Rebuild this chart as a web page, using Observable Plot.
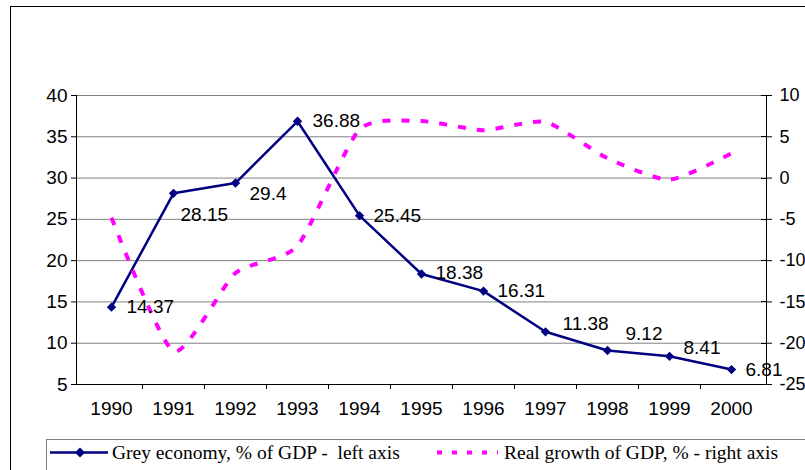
<!DOCTYPE html>
<html>
<head>
<meta charset="utf-8">
<script src="https://cdn.jsdelivr.net/npm/d3@7"></script>
<script src="https://cdn.jsdelivr.net/npm/@observablehq/plot@0.6"></script>
<style>
  html, body { margin: 0; padding: 0; background: #fff; overflow: hidden; }
  #wrap { position: relative; width: 805px; height: 470px; overflow: hidden; }
  #frame { position: absolute; left: 10px; top: 6px; width: 900px; height: 600px;
           border-left: 1px solid #000; border-top: 1px solid #000; box-sizing: border-box; pointer-events: none; }
  #legend { position: absolute; left: 46px; top: 439px; }
</style>
</head>
<body>
<div id="wrap">
  <div id="frame"></div>
  <div id="chart"></div>
  <svg id="legend" width="760" height="31">
    <rect x="0.5" y="0.5" width="800" height="60" fill="#fff" stroke="#808080" stroke-width="1"></rect>
    <line x1="4" x2="62" y1="13.5" y2="13.5" stroke="#000080" stroke-width="2.5"></line>
    <path d="M34,8.5 L39,13.5 L34,18.5 L29,13.5 Z" fill="#000080"></path>
    <text x="66" y="20" xml:space="preserve" font-family="'Liberation Serif','Times New Roman',serif" font-size="19.5" fill="#000">Grey economy, % of GDP -  left axis</text>
    <line x1="391" x2="452" y1="13.5" y2="13.5" stroke="#ff00ff" stroke-width="4" stroke-dasharray="5,10"></line>
    <text x="458" y="20" font-family="'Liberation Serif','Times New Roman',serif" font-size="19.5" fill="#000">Real growth of GDP, % - right axis</text>
  </svg>
</div>
<script>
// ---- data ----
const years = [1990, 1991, 1992, 1993, 1994, 1995, 1996, 1997, 1998, 1999, 2000];
const greyEconomy = [14.37, 28.15, 29.4, 36.88, 25.45, 18.38, 16.31, 11.38, 9.12, 8.41, 6.81];
const gdpGrowth = [-4.8, -21.0, -11.5, -8.2, 5.9, 6.9, 5.8, 6.8, 2.4, -0.2, 3.0];
const leftTicks = [5, 10, 15, 20, 25, 30, 35, 40];
const rightTicks = [-25, -20, -15, -10, -5, 0, 5, 10];
const rightOffset = 30; // right axis value = left axis value - 30

// label nudges (style only)
const labelNudge = [[15,0],[7,22],[14,11],[15,0],[14,0],[14,-1],[14,0],[17,-8],[18,-17],[14,-8],[14,0]];

const idx = years.map((_, i) => i);

function axisLines(index, scales, values, dims) {
  const {width, height, marginLeft, marginRight, marginTop, marginBottom} = dims;
  const x0 = marginLeft, x1 = width - marginRight, yb = height - marginBottom, yt = marginTop;
  const g = d3.create("svg:g").attr("stroke", "#000").attr("stroke-width", 1).attr("fill", "none");
  g.append("line").attr("x1", x0 + 0.5).attr("x2", x0 + 0.5).attr("y1", yt).attr("y2", yb + 0.5);
  g.append("line").attr("x1", x1 + 0.5).attr("x2", x1 + 0.5).attr("y1", yt).attr("y2", yb + 0.5);
  g.append("line").attr("x1", x0).attr("x2", x1 + 0.5).attr("y1", yb + 0.5).attr("y2", yb + 0.5);
  const xs = years.map(y => scales.x(y));
  for (let i = 0; i < xs.length - 1; i++) {
    const bx = Math.round((xs[i] + xs[i + 1]) / 2) + 0.5;
    g.append("line").attr("x1", bx).attr("x2", bx).attr("y1", yb).attr("y2", yb + 5);
  }
  for (const t of rightTicks) {
    const ty = Math.round(scales.y(t + rightOffset)) + 0.5;
    g.append("line").attr("x1", x1 - 5).attr("x2", x1).attr("y1", ty).attr("y2", ty);
  }
  return g.node();
}

const labelMarks = idx.map(i => Plot.text([i], {
  x: d => years[d],
  y: d => greyEconomy[d],
  text: d => String(greyEconomy[d]),
  dx: labelNudge[i][0],
  dy: labelNudge[i][1],
  textAnchor: "start",
  fill: "#000",
  fontSize: 19
}));

const chart = Plot.plot({
  width: 805,
  height: 470,
  marginLeft: 76,
  marginRight: 39,
  marginTop: 95,
  marginBottom: 86,
  style: {fontFamily: "'Liberation Sans', Arial, sans-serif", fontSize: "18px", background: "transparent", overflow: "visible"},
  x: {type: "point", domain: years, padding: 0.5},
  y: {domain: [5, 40]},
  marks: [
    Plot.ruleY(leftTicks.filter(t => t > 5), {stroke: "#808080", strokeWidth: 1, strokeOpacity: 1}),
    Plot.axisX({tickSize: 0, tickPadding: 17, tickFormat: d => String(d), fontSize: 19}),
    Plot.axisY(leftTicks, {anchor: "left", tickSize: 5, tickPadding: 4, tickFormat: d => String(d), fontSize: 19, stroke: "#000"}),
    Plot.axisY(rightTicks.map(t => t + rightOffset), {anchor: "right", tickSize: 5, tickPadding: 8, tickFormat: d => String(d - rightOffset), fontSize: 18}),
    axisLines,
    Plot.line(idx, {x: d => years[d], y: d => greyEconomy[d], stroke: "#000080", strokeWidth: 2.5}),
    Plot.dot(idx, {x: d => years[d], y: d => greyEconomy[d], symbol: "diamond2", r: 4.2, fill: "#000080", stroke: "none"}),
    Plot.line(idx, {x: d => years[d], y: d => gdpGrowth[d] + rightOffset, stroke: "#ff00ff", strokeWidth: 4, strokeDasharray: "8,11", strokeLinecap: "butt", curve: "cardinal", tension: 0.4}),
    ...labelMarks
  ]
});
chart.style.position = "absolute";
chart.style.left = "0px";
chart.style.top = "0px";
document.getElementById("chart").appendChild(chart);
</script>
</body>
</html>
